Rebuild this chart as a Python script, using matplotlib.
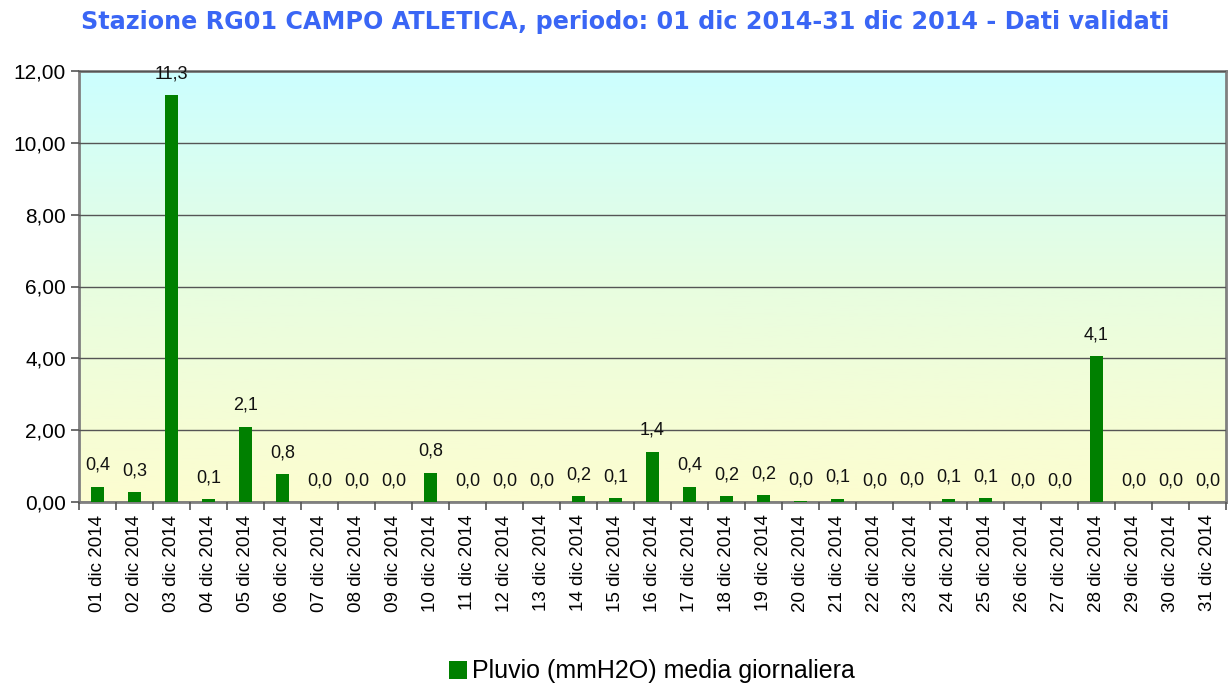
import matplotlib.pyplot as plt
import numpy as np
from matplotlib.colors import LinearSegmentedColormap
from matplotlib.ticker import FuncFormatter, FixedLocator

days = [f"{d:02d} dic 2014" for d in range(1, 32)]
pluvio = [0.42, 0.27, 11.33, 0.07, 2.10, 0.77, 0.0, 0.0, 0.0, 0.82,
          0.0, 0.0, 0.0, 0.16, 0.10, 1.40, 0.42, 0.16, 0.19, 0.02,
          0.09, 0.0, 0.01, 0.09, 0.10, 0.0, 0.0, 4.06, 0.0, 0.0, 0.0]
title = "Stazione RG01 CAMPO ATLETICA, periodo: 01 dic 2014-31 dic 2014 - Dati validati"
legend_label = "Pluvio (mmH2O) media giornaliera"

plt.rcParams['font.family'] = ['Liberation Sans', 'DejaVu Sans']

fig = plt.figure(figsize=(12.3, 6.88), dpi=100)
ax = fig.add_axes([79 / 1230, 1 - 502 / 688, 1147 / 1230, 431 / 688])

x = np.arange(len(days))

# background gradient: cyan at top, pale yellow at bottom
cmap = LinearSegmentedColormap.from_list("bg", ["#fdfdd0", "#e8fde0", "#ccffff"])
grad = np.linspace(0, 1, 256).reshape(-1, 1)
ax.imshow(grad, cmap=cmap, aspect='auto', origin='lower',
          extent=[-0.5, len(days) - 0.5, 0, 12], zorder=0)

ax.bar(x, pluvio, width=0.35, color="#008000", zorder=3, label=legend_label)

for xi, v in zip(x, pluvio):
    ax.text(xi, v + 0.36, f"{v:.1f}".replace(".", ","), ha='center', va='bottom',
            fontsize=13, color='#111111', zorder=4)

ax.set_xlim(-0.5, len(days) - 0.5)
ax.set_ylim(0, 12)
ax.set_yticks(np.arange(0, 12.1, 2))
ax.yaxis.set_major_formatter(FuncFormatter(lambda v, p: f"{v:.2f}".replace(".", ",")))
ax.yaxis.grid(True, color='#555555', linewidth=1)
ax.set_axisbelow(False)
for gl in ax.yaxis.get_gridlines():
    gl.set_zorder(1)

ax.set_xticks(x)
ax.set_xticklabels(days, rotation=90, fontsize=13.5)
ax.xaxis.set_minor_locator(FixedLocator(np.arange(-0.5, len(days), 1)))
ax.tick_params(axis='x', which='major', length=0, pad=9)
ax.tick_params(axis='x', which='minor', length=6, width=1.2, color='#555555')
ax.tick_params(axis='y', labelsize=15, length=6, width=1.2, color='#555555')

for side in ['left', 'top', 'right', 'bottom']:
    ax.spines[side].set_color('#808080')
    ax.spines[side].set_linewidth(2)

fig.text(0.508, 0.968, title, ha='center', va='center', fontsize=17.2,
         fontweight='bold', color='#3a66f5', family='DejaVu Sans')

fig.legend(loc='center', bbox_to_anchor=(0.53, 0.024), frameon=False, fontsize=18,
           handlelength=0.75, handleheight=0.75, handletextpad=0.2)

fig.savefig("out.png", dpi=100)
